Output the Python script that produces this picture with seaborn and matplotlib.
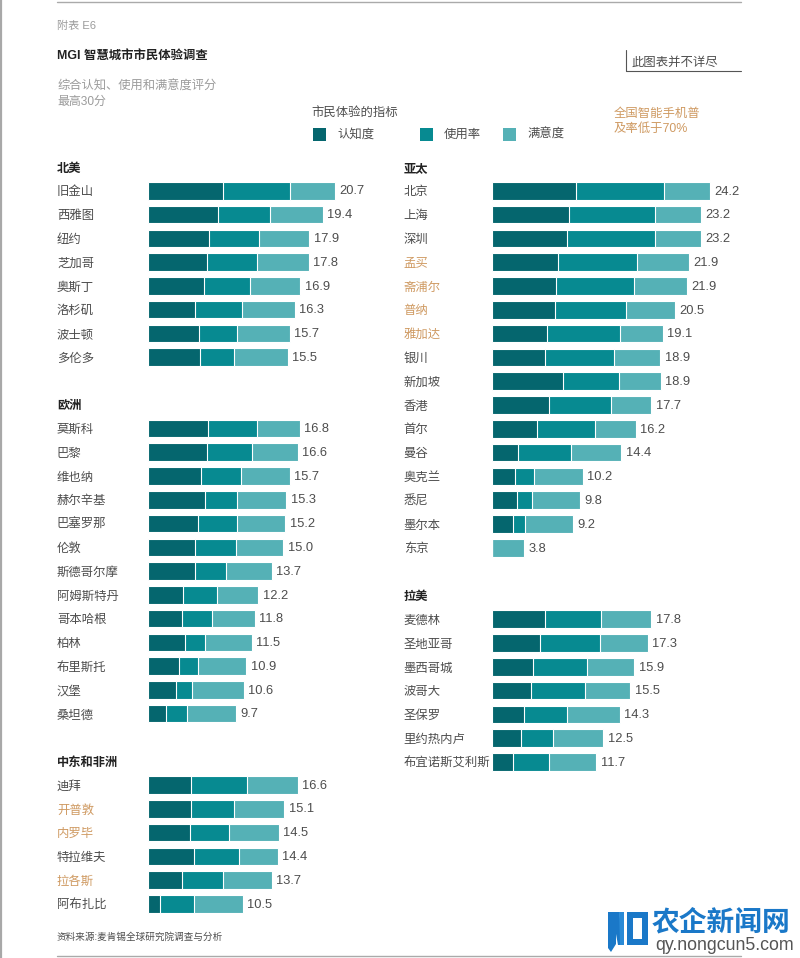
import pandas as pd
import matplotlib.pyplot as plt
from matplotlib.patches import Polygon, Rectangle
import seaborn as sns

# ===================== Data =====================

metrics = ["认知度", "使用率", "满意度"]
smartphone_note = ["全国智能手机普", "及率低于70%"]

# left column
north_america = ["旧金山", "西雅图", "纽约", "芝加哥", "奥斯丁", "洛杉矶", "波士顿", "多伦多"]
na_aware = [8.3, 7.7, 6.7, 6.5, 6.2, 5.2, 5.6, 5.7]
na_usage = [7.4, 5.8, 5.6, 5.6, 5.1, 5.2, 4.2, 3.8]
na_satis = [5.0, 5.9, 5.6, 5.7, 5.6, 5.9, 5.9, 6.0]
na_total = ["20.7", "19.4", "17.9", "17.8", "16.9", "16.3", "15.7", "15.5"]

europe = ["莫斯科", "巴黎", "维也纳", "赫尔辛基", "巴塞罗那", "伦敦", "斯德哥尔摩",
          "阿姆斯特丹", "哥本哈根", "柏林", "布里斯托", "汉堡", "桑坦德"]
eu_aware = [6.6, 6.5, 5.9, 6.3, 5.5, 5.2, 5.2, 3.9, 3.7, 4.1, 3.4, 3.1, 2.0]
eu_usage = [5.5, 5.0, 4.4, 3.5, 4.4, 4.5, 3.4, 3.7, 3.4, 2.2, 2.1, 1.8, 2.3]
eu_satis = [4.7, 5.1, 5.4, 5.5, 5.3, 5.3, 5.1, 4.6, 4.7, 5.2, 5.4, 5.7, 5.4]
eu_total = ["16.8", "16.6", "15.7", "15.3", "15.2", "15.0", "13.7", "12.2", "11.8",
            "11.5", "10.9", "10.6", "9.7"]

mideast = ["迪拜", "开普敦", "内罗毕", "特拉维夫", "拉各斯", "阿布扎比"]
me_aware = [4.7, 4.7, 4.6, 5.1, 3.7, 1.3]
me_usage = [6.3, 4.8, 4.4, 5.0, 4.6, 3.8]
me_satis = [5.6, 5.6, 5.5, 4.3, 5.4, 5.4]
me_total = ["16.6", "15.1", "14.5", "14.4", "13.7", "10.5"]

# right column
asia = ["北京", "上海", "深圳", "孟买", "斋浦尔", "普纳", "雅加达", "银川", "新加坡", "香港",
        "首尔", "曼谷", "奥克兰", "悉尼", "墨尔本", "东京"]
as_aware = [9.4, 8.6, 8.4, 7.3, 7.1, 7.0, 6.1, 5.9, 7.9, 6.3, 5.0, 2.9, 2.6, 2.8, 2.4, 0]
as_usage = [9.7, 9.5, 9.7, 8.8, 8.7, 7.9, 8.1, 7.7, 6.2, 6.9, 6.5, 5.9, 2.1, 1.7, 1.3, 0]
as_satis = [5.1, 5.1, 5.1, 5.8, 5.9, 5.4, 4.8, 5.1, 4.7, 4.5, 4.5, 5.6, 5.4, 5.3, 5.3, 3.6]
as_total = ["24.2", "23.2", "23.2", "21.9", "21.9", "20.5", "19.1", "18.9", "18.9", "17.7",
            "16.2", "14.4", "10.2", "9.8", "9.2", "3.8"]

latam = ["麦德林", "圣地亚哥", "墨西哥城", "波哥大", "圣保罗", "里约热内卢", "布宜诺斯艾利斯"]
la_aware = [5.9, 5.4, 4.6, 4.3, 3.6, 3.2, 2.4]
la_usage = [6.2, 6.6, 6.0, 6.0, 4.8, 3.6, 3.9]
la_satis = [5.6, 5.3, 5.2, 5.1, 5.8, 5.6, 5.3]
la_total = ["17.8", "17.3", "15.9", "15.5", "14.3", "12.5", "11.7"]

# cities with smartphone penetration below 70%
low_phone = ["开普敦", "内罗毕", "拉各斯", "孟买", "斋浦尔", "普纳", "雅加达"]

# ===================== Style =====================

FONT = ["Liberation Sans", "Noto Sans CJK SC"]
DARK = "#05666e"
MID = "#078a91"
LIGHT = "#55b1b6"
TEXT = "#4d4d4d"
GREY = "#9b9b9b"
ORANGE = "#cf9a62"
BLUE = "#1a78c8"

sns.set_theme(style="white")
plt.rcParams["font.family"] = FONT

fig = plt.figure(figsize=(8, 9.58), dpi=100)
W, H = 800, 958
TEXT_DROP = 0.07  # CJK glyphs sit high with va="center"


def px_axes(x, y, w, h):
    # axes placed by pixel box, y measured from the top
    return fig.add_axes([x / W, 1 - (y + h) / H, w / W, h / H])


# ===================== Bars =====================

def draw_column(ax, sections, label_x):
    row = 0
    for name, cities, aware, usage, satis, totals in sections:
        ax.text(label_x, row + TEXT_DROP, name, fontsize=8.8, fontweight="bold", color="#222222",
                va="center", clip_on=False)
        rows = list(range(row + 1, row + 1 + len(cities)))
        df = pd.DataFrame({"city": cities, "row": rows, "aware": aware,
                           "usage": usage, "satis": satis})
        df["end2"] = df["aware"] + df["usage"]
        df["end3"] = df["end2"] + df["satis"]

        # drawn back to front so each segment covers the one after it
        for col, colour in [("end3", LIGHT), ("end2", MID), ("aware", DARK)]:
            sns.barplot(data=df, x=col, y="row", orient="y", native_scale=True, color=colour,
                        saturation=1, width=0.74, edgecolor="white", linewidth=0.8,
                        errorbar=None, ax=ax)

        for city, r, end, total in zip(cities, rows, df["end3"], totals):
            c = ORANGE if city in low_phone else TEXT
            ax.text(label_x, r + TEXT_DROP, city, fontsize=8.9, color=c, va="center", clip_on=False)
            ax.text(end + 0.5, r + 0.03, total, fontsize=9.3, color=TEXT, va="center", clip_on=False)
        row = rows[-1] + 2

    ax.axis("off")


left_sections = [
    ("北美", north_america, na_aware, na_usage, na_satis, na_total),
    ("欧洲", europe, eu_aware, eu_usage, eu_satis, eu_total),
    ("中东和非洲", mideast, me_aware, me_usage, me_satis, me_total),
]
right_sections = [
    ("亚太", asia, as_aware, as_usage, as_satis, as_total),
    ("拉美", latam, la_aware, la_usage, la_satis, la_total),
]

# 9 px per score point, 23.8 px per row
ax_l = px_axes(148.3, 155.1, 243, 32 * 23.77)
draw_column(ax_l, left_sections, -10.15)
ax_l.set_xlim(0, 27)
ax_l.set_ylim(31.5, -0.5)

ax_r = px_axes(491.8, 155.1, 270, 26 * 23.8)
draw_column(ax_r, right_sections, -9.8)
ax_r.set_xlim(0, 30)
ax_r.set_ylim(25.5, -0.5)

# ===================== Page furniture, in pixel coordinates =====================

page = fig.add_axes([0, 0, 1, 1], zorder=-1)
page.set_xlim(0, W)
page.set_ylim(H, 0)
page.axis("off")


def note(x, y, s, size=8.8, color=TEXT, **kw):
    page.text(x, y + 1.5, s, fontsize=size, color=color, va="center", **kw)


note(57, 24, "附表 E6", size=8.0, color=GREY)
note(57, 55, "MGI 智慧城市市民体验调查", size=8.9, color="#222222", fontweight="bold")
note(57, 85, "综合认知、使用和满意度评分", size=8.85, color=GREY)
note(57, 100, "最高30分", size=8.6, color=GREY)
note(311, 112, "市民体验的指标", size=8.9)
note(631, 61, "此图表并不详尽", size=8.9)
note(614, 112, smartphone_note[0], size=8.9, color=ORANGE)
note(614, 127, smartphone_note[1], size=8.9, color=ORANGE)
note(57, 935, "资料来源:麦肯锡全球研究院调查与分析", size=6.9)

for x, label, colour in zip([313, 420, 503], metrics, [DARK, MID, LIGHT]):
    page.add_patch(Rectangle((x, 128), 13, 13, color=colour, lw=0))
    note(x + 24, 133.5, label, size=8.9)

page.plot([57, 741], [1.5, 1.5], color="#aaaaaa", lw=1)
page.plot([57, 741], [956, 956], color="#aaaaaa", lw=1)
page.plot([626, 626, 741], [50, 71, 71], color="#555555", lw=0.8)
page.plot([1, 1], [0, H], color="#a8a8a8", lw=1.6)

# watermark logo, roughly traced
page.add_patch(Polygon([(608, 912), (616, 912), (616, 944), (611, 952), (608, 948)], color=BLUE, lw=0))
page.add_patch(Polygon([(612, 912), (619, 912), (624, 945), (618, 945)], color=BLUE, lw=0))
page.add_patch(Polygon([(619, 912), (624, 912), (624, 945), (620, 945)], color="#2a8ad6", lw=0))
page.add_patch(Polygon([(627, 912), (648, 912), (648, 945), (627, 945), (627, 912),
                        (633, 918), (633, 939), (642, 939), (642, 918), (633, 918)], color=BLUE, lw=0))
note(652, 922, "农企新闻网", size=20, color=BLUE, fontweight="bold")
note(655, 943.5, "qy.nongcun5.com", size=12.8, color="#555555")

fig.savefig("out.png", dpi=100)
